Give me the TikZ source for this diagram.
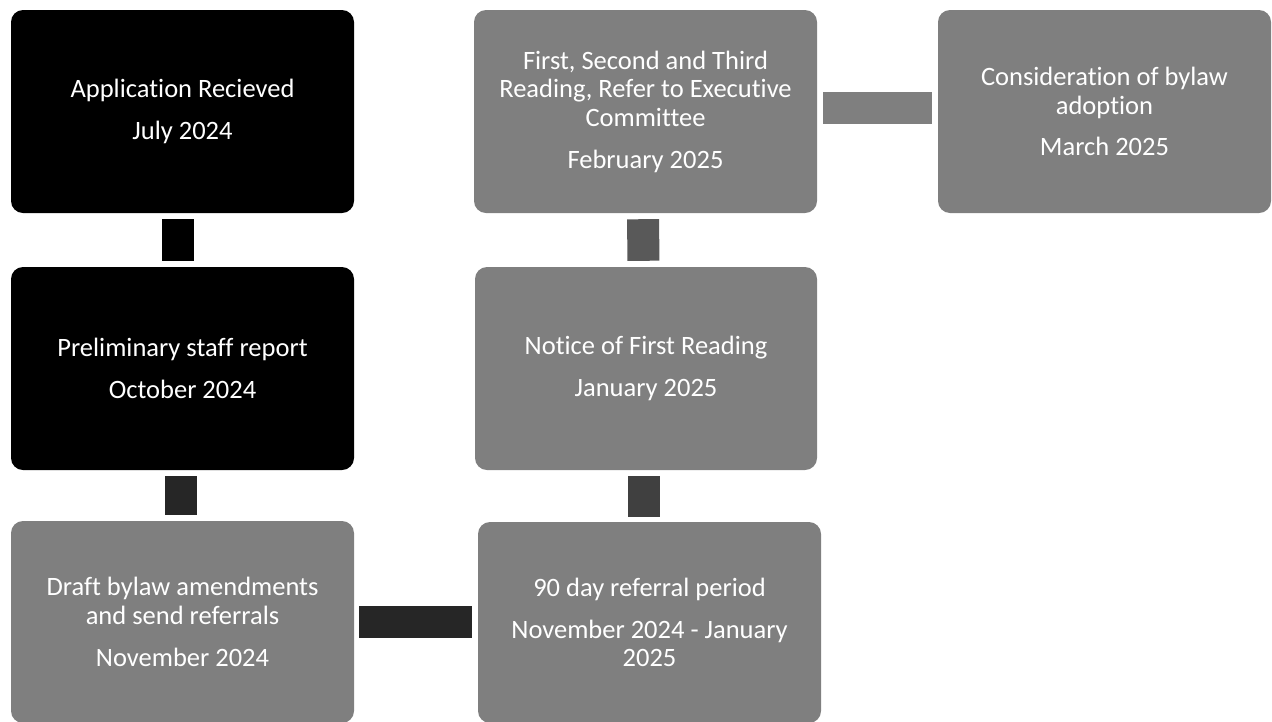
\documentclass[tikz,border=0pt]{standalone}
\usepackage{fontspec}
\setmainfont{Carlito}[Ligatures={NoCommon}]
\definecolor{boxgray}{HTML}{7F7F7F}
\definecolor{linkA}{HTML}{000000}
\definecolor{linkB}{HTML}{262626}
\definecolor{linkD}{HTML}{404040}
\definecolor{linkE}{HTML}{595959}
\tikzset{
  stepbox/.style={rectangle, rounded corners=12pt, inner sep=0pt, align=center,
    text=white, font=\fontsize{26.5pt}{28.7pt}\selectfont},
  link/.style={line width=32pt},
}
\begin{document}
\begin{tikzpicture}[x=1pt,y=-1pt]
\useasboundingbox (0,0) rectangle (1272,721);
% boxes (pixel coordinates, y downwards)
\node[stepbox, fill=black, minimum width=343pt, minimum height=203pt] (A) at (182.5,111.5)
  {Application Recieved\\[13pt]July 2024};
\node[stepbox, fill=black, minimum width=343pt, minimum height=203pt] (B) at (182.5,368.5)
  {Preliminary staff report\\[13pt]October 2024};
\node[stepbox, fill=boxgray, minimum width=343pt, minimum height=202pt] (C) at (182.5,622)
  {Draft bylaw amendments\\and send referrals\\[13pt]November 2024};
\node[stepbox, fill=boxgray, minimum width=343pt, minimum height=201pt] (D) at (649.5,622.5)
  {90 day referral period\\[13pt]November 2024 - January\\2025};
\node[stepbox, fill=boxgray, minimum width=342pt, minimum height=203pt] (E) at (646,368.5)
  {Notice of First Reading\\[13pt]January 2025};
\node[stepbox, fill=boxgray, minimum width=343pt, minimum height=203pt] (F) at (645.5,111.5)
  {First, Second and Third\\Reading, Refer to Executive\\Committee\\[13pt]February 2025};
\node[stepbox, fill=boxgray, minimum width=333pt, minimum height=203pt] (G) at (1104.5,111.5)
  {Consideration of bylaw\\adoption\\[13pt]March 2025};
% connectors
\draw[link, linkA, shorten <=6pt, shorten >=6pt] ([xshift=-4.5pt]A.south) -- ([xshift=-4.5pt]B.north);
\draw[link, linkB, shorten <=6pt, shorten >=6pt] ([xshift=-2pt]B.south) -- ([xshift=-2pt]B.south |- C.north);
\draw[link, linkB, shorten <=5pt, shorten >=6pt] (C.east) -- (C.east -| D.west);
\draw[link, linkD, shorten <=5pt, shorten >=6pt] ([xshift=-2pt]D.north -| E.south) -- ([xshift=-2pt]E.south);
\draw[link, linkE, shorten <=6pt, shorten >=6pt] ([xshift=-2.5pt]E.north) -- ([xshift=-2.5pt]F.south);
\draw[link, boxgray, shorten <=6pt, shorten >=6pt] ([yshift=3.5pt]F.east) -- ([yshift=3.5pt]F.east -| G.west);
\end{tikzpicture}
\end{document}
